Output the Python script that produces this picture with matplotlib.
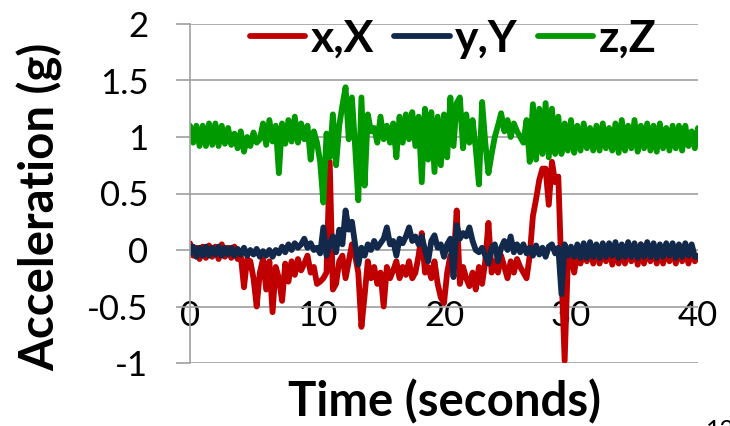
import numpy as np
import matplotlib
matplotlib.use("Agg")
import matplotlib.pyplot as plt

# time axis, one sample every 0.25 s
t = np.arange(161) * 0.25

# x,X acceleration (g)
acc_x = [
    0.06, -0.05, 0.02, -0.08,
    0.03, -0.07, 0.04, -0.06,
    0.03, -0.08, 0.05, -0.06,
    0.02, -0.07, 0.03, -0.08,
    -0.05, -0.33, -0.08, -0.10,
    -0.25, -0.50, -0.20, -0.08,
    -0.35, -0.10, -0.55, -0.15,
    -0.25, -0.45, -0.12, -0.28,
    -0.10, -0.22, -0.08, -0.18,
    -0.12, -0.05, -0.20, -0.15,
    -0.30, -0.28, -0.25, -0.20,
    0.78, -0.35, -0.30, -0.10,
    -0.05, -0.25, -0.10, 0.05,
    -0.05, -0.20, -0.68, -0.40,
    -0.10, -0.25, -0.15, -0.30,
    -0.20, -0.50, -0.15, -0.25,
    -0.18, -0.10, -0.25, -0.15,
    -0.22, -0.10, -0.25, -0.20,
    -0.05, 0.15, -0.20, -0.15,
    -0.25, -0.10, -0.30, -0.42,
    -0.47, -0.20, -0.05, -0.10,
    0.35, -0.30, -0.15, -0.25,
    -0.32, -0.20, -0.35, -0.15,
    -0.30, -0.10, 0.24, -0.20,
    -0.10, -0.20, -0.05, -0.15,
    -0.25, -0.10, -0.20, -0.08,
    -0.15, -0.20, -0.25, -0.05,
    0.30, 0.45, 0.62, 0.72,
    0.72, 0.40, 0.78, 0.60,
    0.65, -0.20, -0.98, -0.10,
    -0.05, -0.20, -0.02, -0.12,
    0.02, -0.10, 0.03, -0.12,
    0.03, -0.12, 0.02, -0.10,
    0.04, -0.13, 0.03, -0.12,
    0.02, -0.12, 0.04, -0.10,
    0.03, -0.13, 0.05, -0.12,
    0.04, -0.10, 0.03, -0.12,
    0.02, -0.12, 0.03, -0.10,
    0.04, -0.12, 0.03, -0.10,
    0.02, -0.12, 0.03, -0.10,
    -0.05,
]

# y,Y acceleration (g)
acc_y = [
    -0.03, 0.03, -0.06, 0.02,
    -0.05, 0.03, -0.05, 0.02,
    -0.04, 0.03, -0.05, 0.02,
    -0.04, 0.02, -0.05, 0.01,
    -0.04, 0.02, -0.05, 0.00,
    -0.04, 0.01, -0.06, -0.01,
    -0.05, 0.00, -0.06, 0.00,
    -0.03, 0.03, -0.02, 0.05,
    0.00, 0.06, 0.02, 0.05,
    0.10, 0.02, 0.06, 0.00,
    0.02, -0.03, 0.20, -0.05,
    0.05, 0.12, -0.02, 0.18,
    0.05, 0.35, 0.18, 0.25,
    0.05, -0.13, 0.02, -0.05,
    0.05, 0.00, 0.08, 0.02,
    0.06, 0.10, 0.20, 0.05,
    0.08, -0.05, 0.10, 0.06,
    0.12, 0.20, 0.08, 0.12,
    0.05, 0.12, 0.00, -0.10,
    0.08, 0.13, 0.02, 0.05,
    -0.06, 0.05, 0.10, -0.24,
    0.22, 0.10, 0.15, 0.12,
    0.20, 0.08, 0.00, -0.02,
    0.02, -0.05, -0.12, 0.02,
    0.05, -0.10, 0.02, 0.08,
    0.00, 0.12, -0.02, 0.05,
    -0.02, 0.05, -0.03, 0.02,
    -0.05, 0.04, -0.04, 0.02,
    -0.06, 0.03, 0.05, -0.03,
    0.02, -0.39, 0.05, -0.05,
    0.03, -0.06, 0.05, -0.07,
    0.06, -0.07, 0.07, -0.06,
    0.05, -0.07, 0.06, -0.06,
    0.06, -0.05, 0.07, -0.07,
    0.05, -0.06, 0.07, -0.06,
    0.06, -0.07, 0.05, -0.06,
    0.07, -0.06, 0.06, -0.07,
    0.05, -0.06, 0.06, -0.05,
    0.06, -0.07, 0.05, -0.06,
    0.06, -0.05, 0.05, -0.06,
    -0.06,
]

# z,Z acceleration (g)
acc_z = [
    1.10, 0.95, 1.10, 0.92,
    1.10, 0.92, 1.12, 0.93,
    1.12, 0.92, 1.10, 0.94,
    1.08, 0.93, 1.03, 0.90,
    1.05, 0.87, 1.00, 0.92,
    1.04, 0.95, 0.98, 1.12,
    0.93, 1.15, 0.96, 1.10,
    0.68, 1.12, 0.94, 1.15,
    0.96, 1.18, 0.95, 1.12,
    0.98, 1.10, 0.80, 1.05,
    0.95, 0.78, 0.42, 1.03,
    0.82, 1.20, 0.75, 1.10,
    1.28, 1.44, 0.98, 1.35,
    0.92, 0.44, 1.35, 0.57,
    1.20, 1.05, 1.08, 0.95,
    1.18, 0.98, 1.10, 0.95,
    1.12, 0.82, 1.18, 0.95,
    1.20, 0.98, 1.22, 0.92,
    1.18, 0.60, 1.25, 0.80,
    1.22, 0.69, 1.18, 0.75,
    1.20, 0.82, 1.35, 0.92,
    1.30, 1.35, 0.90, 1.20,
    0.95, 1.15, 0.90, 0.58,
    1.31, 0.95, 0.68, 0.85,
    1.00, 1.10, 1.21, 1.05,
    1.15, 1.00, 1.12, 1.05,
    1.00, 0.95, 1.15, 0.78,
    1.29, 0.80, 1.25, 0.85,
    1.30, 0.82, 1.25, 0.85,
    1.18, 0.85, 1.12, 0.88,
    1.15, 0.86, 1.10, 0.88,
    1.12, 0.90, 1.08, 0.88,
    1.10, 0.88, 1.12, 0.90,
    1.08, 0.88, 1.12, 0.86,
    1.15, 0.88, 1.10, 0.90,
    1.15, 0.87, 1.10, 0.90,
    1.12, 0.88, 1.10, 0.87,
    1.12, 0.90, 1.08, 0.88,
    1.10, 0.90, 1.10, 0.88,
    1.10, 0.92, 1.05, 0.90,
    1.08,
]

series_labels = ["x,X", "y,Y", "z,Z"]
series_colors = ["#C00000", "#13294B", "#009A00"]
x_ticks = [0, 10, 20, 30, 40]
y_ticks = [-1, -0.5, 0, 0.5, 1, 1.5, 2]
y_tick_labels = ["-1", "-0.5", "0", "0.5", "1", "1.5", "2"]

plt.rcParams["font.family"] = ["Lato", "DejaVu Sans"]

fig = plt.figure(figsize=(7.3, 4.26), dpi=100)
ax = fig.add_axes([190 / 730, 63 / 426, 508 / 730, 339 / 426])

for vals, lab, col in zip([acc_x, acc_y, acc_z], series_labels, series_colors):
    ax.plot(t, vals, color=col, lw=4.2, label=lab,
            solid_joinstyle="round", solid_capstyle="round")

ax.set_xlim(0, 40)
ax.set_ylim(-1, 2)
ax.set_yticks(y_ticks)
ax.set_yticklabels(y_tick_labels)
ax.set_xticks(x_ticks)
ax.set_xticklabels([str(v) for v in x_ticks])

grid_col = "#A0A0A0"
ax.yaxis.grid(True, color=grid_col, lw=1.2)
ax.set_axisbelow(True)
for s in ["top", "right"]:
    ax.spines[s].set_visible(False)
ax.spines["left"].set_color(grid_col)
ax.spines["left"].set_linewidth(1.2)
# x labels sit on the -0.5 line, like the Excel chart
ax.spines["bottom"].set_position(("data", -0.44))
ax.spines["bottom"].set_visible(False)
ax.tick_params(axis="x", length=0, pad=0, labelsize=25)
ax.tick_params(axis="y", length=10, width=1.2, color=grid_col, pad=20, labelsize=25)

ax.set_xlabel("Time (seconds)", fontsize=34, fontweight="bold", va="center")
ax.xaxis.set_label_coords(0.5, -0.115)
ax.set_ylabel("Acceleration (g)", fontsize=34, fontweight="bold", va="center")
ax.yaxis.set_label_coords(-0.295, 0.46)

ax.legend(loc="center", bbox_to_anchor=(453 / 730, 1 - 39 / 426),
          bbox_transform=fig.transFigure, ncol=3, frameon=False,
          prop={"size": 32, "weight": "bold"}, handlelength=1.25,
          handletextpad=0.12, columnspacing=0.45, borderpad=0, borderaxespad=0)

fig.text(706 / 730, 1 - 419 / 426, "12", fontsize=18, va="top", ha="left")

fig.savefig("out.png", dpi=100)
